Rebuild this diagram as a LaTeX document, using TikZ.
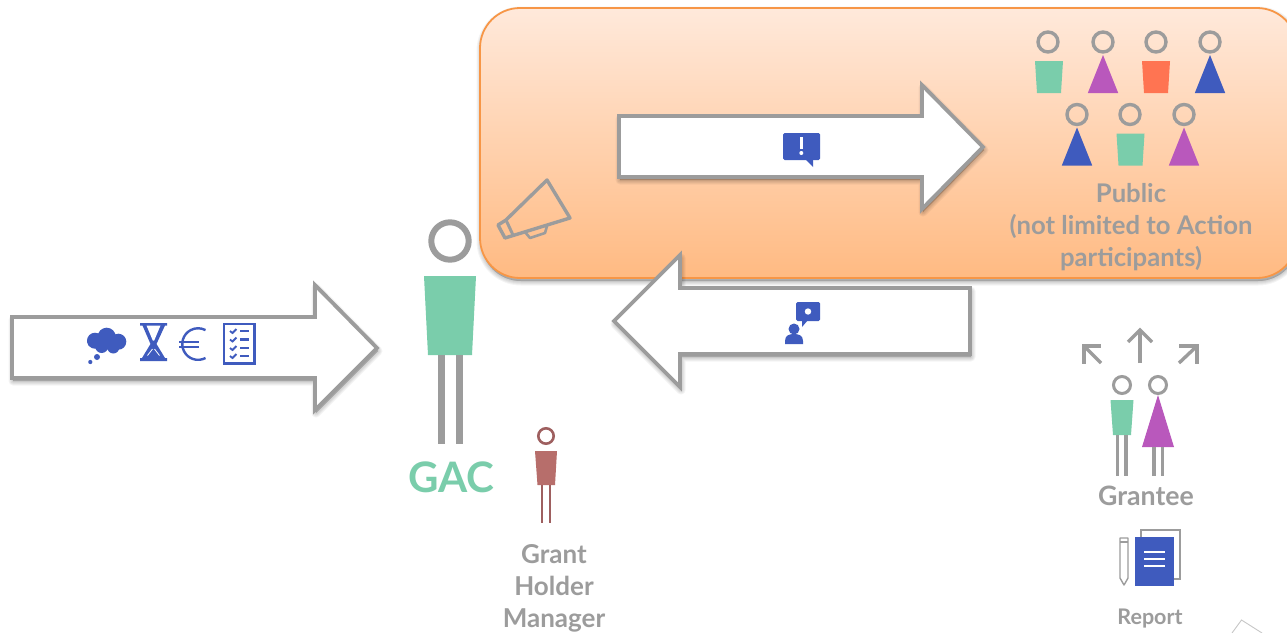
\documentclass[tikz,border=0pt]{standalone}
\usepackage{fontspec}
\setmainfont{Lato}
\usetikzlibrary{calc}
\definecolor{ringgrey}{HTML}{9C9C9C}
\definecolor{figblue}{HTML}{3F5BBE}
\definecolor{figgreen}{HTML}{7ACDAB}
\definecolor{figpurple}{HTML}{B958BC}
\definecolor{figorange}{HTML}{FF7452}
\definecolor{mgrbody}{HTML}{B76E6B}
\definecolor{mgrline}{HTML}{9E5F5F}
\definecolor{boxedge}{HTML}{F79646}
\definecolor{boxtop}{HTML}{FFE9DB}
\definecolor{boxbottom}{HTML}{FFBA82}
\tikzset{
  blockarrow/.style={draw=ringgrey,fill=white,line width=3.8pt,miter limit=10},
  softshade/.style={draw=black,fill=black,opacity=0.045,line join=round},
  legline/.style={draw=ringgrey,line width=#1},
  headring/.style={draw=ringgrey,line width=3.4pt,fill=none},
  label/.style={text=ringgrey,font=\bfseries\fontsize{25.7}{32}\selectfont,align=center,inner sep=0pt},
  grline/.style={draw=ringgrey,line width=3.4pt},
}
\newcommand{\softpath}[2]{\foreach \w in {1,3,5,7,9}{\path[softshade,line width=\w pt,shift={#1}] #2;}}
\newcommand{\manfig}[3]{% centre x, top of body, colour
  \fill[#3] ($(#1,#2)+(-14,0)$) -- ++(28,0) -- ++(-2,32) -- ++(-24,0) -- cycle;}
\newcommand{\womanfig}[3]{\fill[#3] ($(#1,#2)+(0,-6)$) -- ++(15.2,38) -- ++(-30.4,0) -- cycle;}
\begin{document}
\begin{tikzpicture}[x=1pt,y=-1pt]
\useasboundingbox (0,0) rectangle (1287,632);
\clip (0,0) rectangle (1287,632);
\fill[white] (0,0) rectangle (1287,632);

% orange panel
\softpath{(1,3)}{[rounded corners=40pt] (480,8) rectangle (1297,278)}
\path[draw=boxedge,line width=1.8pt,top color=boxtop,bottom color=boxbottom,rounded corners=40pt] (480,8) rectangle (1297,278);

% arrow into GAC
\softpath{(1,3)}{(12,317) -- (315,317) -- (315,285) -- (377,348) -- (315,410) -- (315,378) -- (12,378) -- cycle}
\path[blockarrow] (12,317) -- (315,317) -- (315,285) -- (377,348) -- (315,410) -- (315,378) -- (12,378) -- cycle;
% arrow to public
\softpath{(1,3)}{(619,116) -- (922,116) -- (922,85) -- (983,147) -- (922,209) -- (922,177) -- (619,177) -- cycle}
\path[blockarrow] (619,116) -- (922,116) -- (922,85) -- (983,147) -- (922,209) -- (922,177) -- (619,177) -- cycle;
% arrow back
\softpath{(1,3)}{(970,288) -- (680,288) -- (680,255) -- (614,321) -- (680,387) -- (680,354) -- (970,354) -- cycle}
\path[blockarrow] (970,288) -- (680,288) -- (680,255) -- (614,321) -- (680,387) -- (680,354) -- (970,354) -- cycle;

% megaphone
\draw[ringgrey,line width=3.4pt,line join=round] (547,180) -- (570,218) -- (505,238) -- (498,225) -- (506,220) -- cycle;
\draw[ringgrey,line width=3pt,line join=round] (506,220) -- (513,235);
\draw[ringgrey,line width=2.6pt,line join=round] (525,232) -- (530,238) -- (545,233) -- (547,226);

% public figures
\foreach \hx in {1048,1103,1156,1210}{\draw[headring] (\hx,42) circle (10);}
\foreach \hx in {1077,1130,1184}{\draw[headring] (\hx,114.5) circle (10);}
\manfig{1049}{61}{figgreen}
\womanfig{1103}{61}{figpurple}
\manfig{1156}{61}{figorange}
\womanfig{1210}{61}{figblue}
\womanfig{1077}{133.5}{figblue}
\manfig{1130.5}{133.5}{figgreen}
\womanfig{1184}{133.5}{figpurple}
\node[label] (publicLabel) at (1131,227) {Public\\(not limited to Action\\participants)};

% GAC figure
\draw[ringgrey,line width=6pt] (450,241) circle (18.7);
\fill[figgreen] (424,276) -- (476,276) -- (472,355) -- (428,355) -- cycle;
\draw[legline=7pt] (441,355) -- (441,444);
\draw[legline=7pt] (459,355) -- (459,444);
\node[text=figgreen,font=\bfseries\fontsize{42}{42}\selectfont,inner sep=0pt] (gacLabel) at (451.5,477) {GAC};

% grant holder manager
\draw[mgrline,line width=2.6pt] (546,436) circle (7.7);
\fill[mgrbody] (535,451) -- (557,451) -- (555,485) -- (537.5,485) -- cycle;
\draw[mgrline,line width=2.8pt] (542,485) -- (542,523);
\draw[mgrline,line width=2.8pt] (550,485) -- (550,523);
\node[label,font=\bfseries\fontsize{26}{32}\selectfont] (mgrLabel) at (554,588) {Grant\\Holder\\Manager};

% grantees
\draw[headring,line width=3pt] (1122,385) circle (8.5);
\draw[headring,line width=3pt] (1158,385) circle (8.5);
\fill[figgreen] (1110.5,400) -- (1133.5,400) -- (1131,435) -- (1113,435) -- cycle;
\fill[figpurple] (1158,395) -- (1174,447) -- (1142,447) -- cycle;
\draw[legline=3.6pt] (1117.5,435) -- (1117.5,476);
\draw[legline=3.6pt] (1126,435) -- (1126,476);
\draw[legline=3.6pt] (1154,447) -- (1154,476);
\draw[legline=3.6pt] (1162.5,447) -- (1162.5,476);
\node[label,font=\bfseries\fontsize{26.7}{32}\selectfont] (granteeLabel) at (1146,495.5) {Grantee};

% direction arrows
\draw[grline] (1140,363) -- (1140,330);
\draw[grline,line join=miter] (1128,342) -- (1140,330) -- (1152,342);
\draw[grline] (1084,363.5) -- (1084,346) -- (1101,346);
\draw[grline] (1084,346) -- (1101,363);
\draw[grline] (1179,346) -- (1197,346) -- (1197,363.5);
\draw[grline] (1197,346) -- (1179,363);

% report
\draw[ringgrey,line width=1.4pt] (1141,530) rectangle (1180,579);
\fill[figblue] (1135,537) rectangle (1173.5,585.5);
\foreach \ly in {552,559,566}{\draw[white,line width=1.5pt] (1144,\ly) -- (1165,\ly);}
\draw[ringgrey,line width=1.4pt,line join=round] (1120,538) -- (1128,538) -- (1128,578) -- (1124,585) -- (1120,578) -- cycle;
\draw[ringgrey,line width=1.2pt] (1120,542) -- (1128,542);
\node[label,font=\bfseries\fontsize{21.5}{25}\selectfont] (reportLabel) at (1150,619) {Report};

% faint corner lines
\draw[black!22,line width=.9pt] (1232,633) -- (1241.5,620) -- (1262,633);

% icons in long arrow: cloud
\fill[figblue] (95,340.7) circle (8) (106.7,336.7) circle (9) (118.3,341.7) circle (8) (113.3,347.5) circle (6) (101.7,346.5) circle (6.5) (92,342) circle (5);
\fill[figblue] (97,357) circle (3) (90.3,362) circle (2.1);
% hourglass
\fill[figblue] (140,323) -- (167,323) -- (167,325.5) -- (165,325.5) -- (156.5,344) -- (165,358) -- (167,358) -- (167,361) -- (140,361) -- (140,358) -- (142,358) -- (150.5,344) -- (142.5,325.5) -- (140,325.5) -- cycle;
\fill[white] (146.5,325.5) -- (160.5,325.5) -- (154.2,340.5) -- (152.8,340.5) -- cycle;
\draw[white,line width=.8pt] (152.5,349) -- (147.5,355.5) (154.5,349) -- (159.5,355.5);
% euro sign
\draw[figblue,line width=2.4pt] (205.5,358) arc (62:298:15.8);
\draw[figblue,line width=2.2pt] (179,342) -- (199,342) (179,347) -- (199,347);
% checklist
\draw[figblue,line width=2.4pt] (224,324) rectangle (254.5,363.5);
\foreach \ly in {331,339.5,348,356}{
  \draw[figblue,line width=1.8pt] (230,\ly) -- (232.5,\ly+2) -- (236.5,\ly-2);
  \draw[figblue,line width=2.4pt] (240,\ly) -- (249,\ly);
}

% exclamation bubble
\fill[figblue,rounded corners=1.5pt] (783,133) rectangle (820,160);
\fill[figblue] (805,159) -- (813,159) -- (813,167) -- cycle;
\draw[white,line width=2.4pt] (801.3,137) -- (801.3,149);
\fill[white] (801.3,153) circle (2);

% person with bubble
\fill[figblue,rounded corners=1.5pt] (796,302) rectangle (820,321);
\fill[figblue] (802,320) -- (808,320) -- (802,327) -- cycle;
\fill[white] (808,311.5) circle (3.2);
\fill[figblue] (794,329) circle (5.5);
\fill[figblue] (785,344) -- (785,341) .. controls (785,335.5) and (789,334) .. (794,334) .. controls (799,334) and (803,335.5) .. (803,341) -- (803,344) -- cycle;
\end{tikzpicture}
\end{document}
